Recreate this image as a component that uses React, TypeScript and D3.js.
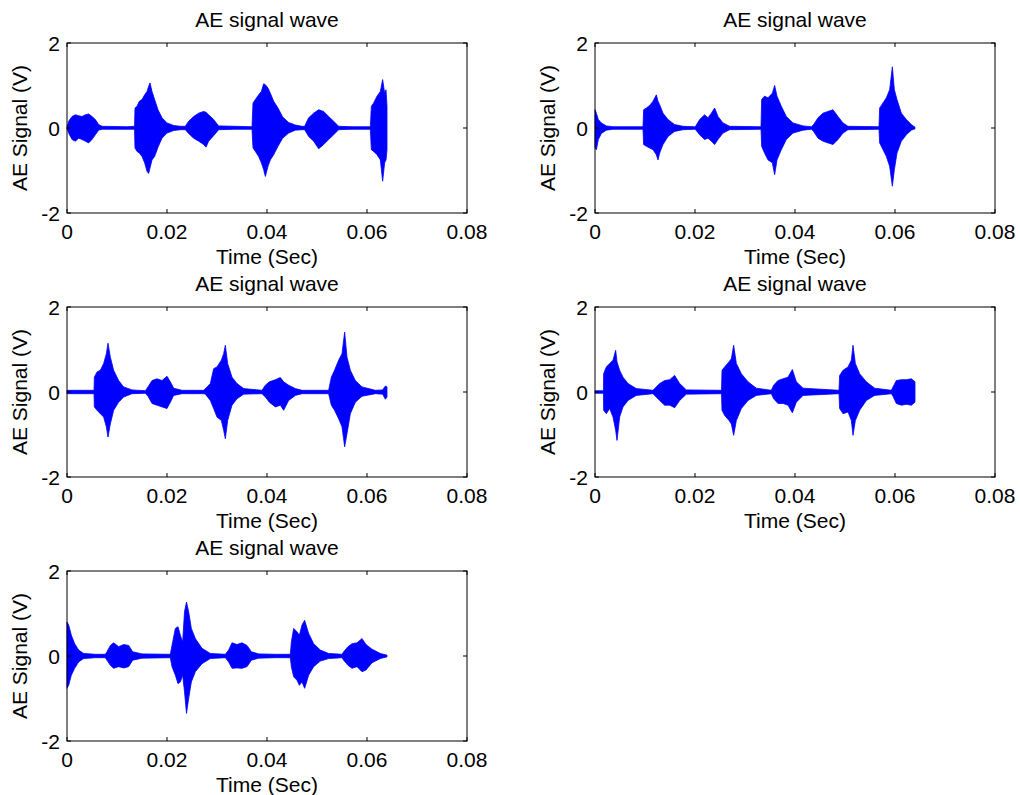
import React from "react";
import * as d3 from "d3";

// Envelope of each AE signal: [time (s), upper (V), lower (V)]
const wave1: [number, number, number][] = [
  [0, 0.02, -0.02], [0.00033, 0.16, -0.12], [0.001, 0.27, -0.27], [0.00167, 0.31, -0.31], [0.00233, 0.29, -0.24],
  [0.003, 0.27, -0.27], [0.00367, 0.31, -0.31], [0.00433, 0.33, -0.35], [0.005, 0.27, -0.27], [0.00567, 0.2, -0.16],
  [0.00633, 0.08, -0.05], [0.007, 0.04, -0.03], [0.012, 0.03, -0.03], [0.0135, 0.04, -0.03],
  [0.0136, 0.47, -0.47], [0.014, 0.51, -0.55], [0.01447, 0.63, -0.59], [0.015, 0.67, -0.67], [0.01553, 0.78, -0.82],
  [0.016, 0.86, -1.02], [0.01633, 0.98, -1.07], [0.0166, 1.06, -0.94], [0.017, 0.86, -0.75], [0.01753, 0.67, -0.67],
  [0.0182, 0.43, -0.45], [0.019, 0.24, -0.24], [0.02, 0.12, -0.12], [0.02133, 0.06, -0.06], [0.02267, 0.04, -0.04],
  [0.02367, 0.04, -0.04], [0.02433, 0.16, -0.13], [0.02533, 0.27, -0.24], [0.02633, 0.35, -0.31], [0.02733, 0.39, -0.39],
  [0.0278, 0.37, -0.45], [0.02833, 0.31, -0.31], [0.02933, 0.2, -0.18], [0.03033, 0.05, -0.04], [0.03367, 0.04, -0.03],
  [0.037, 0.03, -0.03], [0.0372, 0.59, -0.47], [0.03767, 0.67, -0.55], [0.03833, 0.78, -0.67], [0.03887, 0.86, -0.82],
  [0.03933, 1.04, -0.98], [0.03967, 1.02, -1.14], [0.0402, 0.94, -0.9], [0.04067, 0.82, -0.75], [0.04133, 0.63, -0.63],
  [0.0422, 0.47, -0.43], [0.04313, 0.26, -0.24], [0.04433, 0.13, -0.12], [0.04567, 0.07, -0.05], [0.047, 0.04, -0.04],
  [0.04753, 0.04, -0.04], [0.04833, 0.24, -0.2], [0.04933, 0.35, -0.31], [0.05033, 0.43, -0.49], [0.05133, 0.39, -0.39],
  [0.05233, 0.27, -0.27], [0.05333, 0.16, -0.16], [0.05433, 0.04, -0.04], [0.057, 0.03, -0.03], [0.06067, 0.03, -0.03],
  [0.06087, 0.51, -0.51], [0.06133, 0.59, -0.55], [0.062, 0.75, -0.63], [0.06267, 0.86, -0.75], [0.06313, 1.14, -1.25],
  [0.06353, 0.82, -0.82], [0.0638, 0.9, -0.75], [0.064, 0.51, -0.51], [0.064, 0, 0],
];

const wave2: [number, number, number][] = [
  [0, 0.43, -0.47], [0.00027, 0.35, -0.51], [0.00067, 0.2, -0.27], [0.00127, 0.12, -0.13], [0.00227, 0.05, -0.05],
  [0.0036, 0.03, -0.03], [0.0096, 0.03, -0.03],
  [0.00973, 0.43, -0.39], [0.01027, 0.47, -0.43], [0.01093, 0.53, -0.47], [0.0116, 0.63, -0.51], [0.01227, 0.78, -0.63],
  [0.0126, 0.63, -0.75], [0.01293, 0.55, -0.59], [0.0136, 0.35, -0.39], [0.0146, 0.2, -0.2], [0.01593, 0.08, -0.08],
  [0.0176, 0.04, -0.04], [0.01993, 0.03, -0.03],
  [0.02013, 0.04, -0.04], [0.02093, 0.2, -0.16], [0.02193, 0.31, -0.27], [0.0226, 0.24, -0.24], [0.02327, 0.35, -0.31],
  [0.02393, 0.47, -0.39], [0.0246, 0.27, -0.27], [0.0256, 0.12, -0.12], [0.02693, 0.04, -0.04], [0.0332, 0.03, -0.03],
  [0.03333, 0.67, -0.43], [0.0339, 0.75, -0.59], [0.0346, 0.71, -0.75], [0.03547, 0.82, -0.82], [0.03593, 1.0, -1.1],
  [0.0364, 0.75, -0.75], [0.03727, 0.51, -0.51], [0.03827, 0.27, -0.27], [0.0396, 0.12, -0.12], [0.0416, 0.05, -0.05],
  [0.04327, 0.03, -0.03],
  [0.04373, 0.08, -0.08], [0.0446, 0.24, -0.24], [0.0456, 0.35, -0.31], [0.0466, 0.39, -0.35], [0.0476, 0.43, -0.39],
  [0.0486, 0.27, -0.27], [0.0496, 0.12, -0.12], [0.0506, 0.04, -0.04], [0.0568, 0.03, -0.03],
  [0.05693, 0.47, -0.35], [0.0576, 0.59, -0.51], [0.05827, 0.71, -0.67], [0.05893, 0.9, -0.9], [0.05947, 1.44, -1.37],
  [0.05987, 0.9, -0.98], [0.0604, 0.67, -0.59], [0.06127, 0.35, -0.31], [0.06227, 0.2, -0.16], [0.06327, 0.08, -0.05],
  [0.064, 0.02, -0.02],
];

const wave3: [number, number, number][] = [
  [0, 0.04, -0.04], [0.0054, 0.04, -0.04],
  [0.00547, 0.35, -0.35], [0.006, 0.47, -0.43], [0.00667, 0.51, -0.51], [0.00733, 0.67, -0.59], [0.00787, 0.9, -0.82],
  [0.0082, 1.15, -1.06], [0.00867, 0.82, -0.75], [0.00933, 0.51, -0.43], [0.01033, 0.27, -0.24], [0.01133, 0.12, -0.12],
  [0.013, 0.05, -0.04], [0.01567, 0.03, -0.03],
  [0.0162, 0.12, -0.1], [0.017, 0.27, -0.27], [0.018, 0.31, -0.31], [0.019, 0.27, -0.35], [0.02, 0.37, -0.39],
  [0.02067, 0.24, -0.24], [0.02133, 0.09, -0.08], [0.023, 0.04, -0.04], [0.02733, 0.04, -0.04],
  [0.02767, 0.08, -0.05], [0.02867, 0.2, -0.2], [0.02933, 0.55, -0.39], [0.03, 0.59, -0.59], [0.03087, 0.75, -0.67],
  [0.03133, 0.9, -0.9], [0.03167, 1.1, -1.1], [0.03213, 0.67, -0.67], [0.033, 0.35, -0.31], [0.034, 0.2, -0.16],
  [0.03533, 0.08, -0.05], [0.039, 0.04, -0.04],
  [0.03967, 0.16, -0.12], [0.04047, 0.24, -0.24], [0.04167, 0.29, -0.35], [0.04267, 0.34, -0.31], [0.04333, 0.24, -0.43],
  [0.04433, 0.16, -0.2], [0.04567, 0.08, -0.08], [0.047, 0.04, -0.04], [0.05233, 0.04, -0.04],
  [0.05287, 0.35, -0.31], [0.0535, 0.51, -0.43], [0.05433, 0.75, -0.63], [0.055, 0.9, -0.82], [0.05553, 1.41, -1.29],
  [0.056, 0.82, -0.98], [0.05667, 0.51, -0.51], [0.05767, 0.27, -0.24], [0.059, 0.12, -0.1], [0.06167, 0.04, -0.04],
  [0.06313, 0.05, -0.05], [0.06367, 0.14, -0.17], [0.064, 0.12, -0.12], [0.064, 0, 0],
];

const wave4: [number, number, number][] = [
  [0, 0.03, -0.03], [0.0017, 0.03, -0.03],
  [0.00173, 0.43, -0.43], [0.00227, 0.59, -0.51], [0.00293, 0.67, -0.39], [0.0036, 0.75, -0.59], [0.00413, 0.98, -0.9],
  [0.0044, 0.71, -1.14], [0.00493, 0.51, -0.59], [0.0056, 0.35, -0.35], [0.0066, 0.2, -0.2], [0.00827, 0.08, -0.08],
  [0.0116, 0.04, -0.04],
  [0.01193, 0.08, -0.08], [0.01293, 0.2, -0.2], [0.01393, 0.27, -0.31], [0.01493, 0.29, -0.31], [0.01593, 0.39, -0.37],
  [0.01693, 0.2, -0.2], [0.01827, 0.05, -0.05], [0.0253, 0.04, -0.04],
  [0.0254, 0.51, -0.43], [0.02593, 0.59, -0.55], [0.0268, 0.71, -0.67], [0.02727, 0.78, -0.75], [0.02773, 1.1, -1.02],
  [0.02827, 0.67, -0.67], [0.02927, 0.43, -0.39], [0.0306, 0.24, -0.2], [0.03227, 0.09, -0.08], [0.03527, 0.04, -0.04],
  [0.03573, 0.16, -0.16], [0.0366, 0.27, -0.27], [0.0376, 0.31, -0.27], [0.0386, 0.35, -0.31], [0.03947, 0.53, -0.49],
  [0.04027, 0.24, -0.24], [0.0416, 0.09, -0.08], [0.0488, 0.04, -0.04],
  [0.04893, 0.39, -0.39], [0.0496, 0.51, -0.51], [0.0506, 0.59, -0.47], [0.05127, 0.75, -0.67], [0.0516, 1.1, -1.02],
  [0.05207, 0.67, -0.67], [0.05293, 0.43, -0.43], [0.05427, 0.24, -0.2], [0.05593, 0.09, -0.08], [0.05927, 0.04, -0.04],
  [0.0596, 0.12, -0.1], [0.06027, 0.27, -0.27], [0.06127, 0.29, -0.31], [0.06227, 0.29, -0.29], [0.06327, 0.31, -0.31],
  [0.064, 0.24, -0.24], [0.064, 0, 0],
];

const wave5: [number, number, number][] = [
  [0, 0.8, -0.76], [0.00033, 0.73, -0.69], [0.00087, 0.49, -0.45], [0.00153, 0.29, -0.29], [0.00233, 0.14, -0.14],
  [0.00333, 0.06, -0.06], [0.00567, 0.04, -0.04], [0.00767, 0.04, -0.04],
  [0.008, 0.1, -0.1], [0.00867, 0.25, -0.22], [0.00933, 0.31, -0.29], [0.01033, 0.22, -0.25], [0.01133, 0.27, -0.28],
  [0.01233, 0.25, -0.25], [0.01313, 0.1, -0.1], [0.015, 0.05, -0.05], [0.02067, 0.04, -0.04],
  [0.021, 0.25, -0.25], [0.02167, 0.65, -0.45], [0.0222, 0.69, -0.65], [0.02267, 0.49, -0.61], [0.02313, 0.33, -0.45],
  [0.0235, 1.04, -0.84], [0.0239, 1.27, -1.35], [0.02433, 1.04, -1.0], [0.02487, 0.65, -0.61], [0.02567, 0.41, -0.37],
  [0.027, 0.18, -0.18], [0.02867, 0.06, -0.06], [0.03167, 0.04, -0.04],
  [0.03233, 0.14, -0.14], [0.033, 0.31, -0.29], [0.034, 0.27, -0.28], [0.035, 0.31, -0.29], [0.036, 0.25, -0.25],
  [0.03687, 0.1, -0.1], [0.03833, 0.05, -0.05], [0.04167, 0.04, -0.04], [0.04467, 0.04, -0.04],
  [0.04487, 0.33, -0.25], [0.04533, 0.65, -0.49], [0.046, 0.57, -0.57], [0.04647, 0.49, -0.69], [0.047, 0.73, -0.61],
  [0.04753, 0.84, -0.76], [0.04833, 0.53, -0.45], [0.04933, 0.29, -0.25], [0.05067, 0.14, -0.12], [0.05233, 0.06, -0.06],
  [0.055, 0.04, -0.04],
  [0.05533, 0.1, -0.1], [0.0562, 0.22, -0.22], [0.057, 0.29, -0.29], [0.058, 0.31, -0.25], [0.059, 0.41, -0.37],
  [0.0598, 0.27, -0.33], [0.061, 0.16, -0.16], [0.06267, 0.06, -0.06], [0.064, 0.02, -0.02],
];

const waves = [wave1, wave2, wave3, wave4, wave5];
const xTicks = [0, 0.02, 0.04, 0.06, 0.08];
const yTicks = [-2, 0, 2];
const titleText = "AE signal wave";
const xLabelText = "Time (Sec)";
const yLabelText = "AE Signal (V)";

const panels = [
  { left: 67, top: 43 },
  { left: 595, top: 43 },
  { left: 67, top: 307 },
  { left: 595, top: 307 },
  { left: 67, top: 571 },
];

const W = 400;
const H = 170;
const FONT = "'Liberation Sans', Arial, Helvetica, sans-serif";
const FS = 21;
const BLUE = "#0000ff";

function Panel({ left, top, data }: { left: number; top: number; data: [number, number, number][] }) {
  const x = d3.scaleLinear().domain([0, 0.08]).range([0, W]);
  const y = d3.scaleLinear().domain([-2, 2]).range([H, 0]);
  const area = d3
    .area<[number, number, number]>()
    .x((d) => x(d[0]))
    .y0((d) => y(d[2]))
    .y1((d) => y(d[1]))
    .curve(d3.curveLinear);
  const last = data[data.length - 1][0];
  const tl = 4;
  return (
    <g transform={`translate(${left},${top})`}>
      <rect x={0} y={0} width={W} height={H} fill="#fff" />
      <line x1={x(0)} x2={x(last)} y1={y(0)} y2={y(0)} stroke={BLUE} strokeWidth={1.5} />
      <path d={area(data) || ""} fill={BLUE} stroke={BLUE} strokeWidth={0.8} strokeLinejoin="miter" />
      <rect x={0} y={0} width={W} height={H} fill="none" stroke="#000" strokeWidth={1} />
      {xTicks.map((t) => (
        <g key={`x${t}`}>
          <line x1={x(t)} x2={x(t)} y1={H} y2={H - tl} stroke="#000" />
          <line x1={x(t)} x2={x(t)} y1={0} y2={tl} stroke="#000" />
          <text x={x(t)} y={H + 26} textAnchor="middle" fontFamily={FONT} fontSize={FS}>
            {String(t)}
          </text>
        </g>
      ))}
      {yTicks.map((t) => (
        <g key={`y${t}`}>
          <line x1={0} x2={tl} y1={y(t)} y2={y(t)} stroke="#000" />
          <line x1={W} x2={W - tl} y1={y(t)} y2={y(t)} stroke="#000" />
          <text x={-7} y={y(t) + 7.5} textAnchor="end" fontFamily={FONT} fontSize={FS}>
            {String(t)}
          </text>
        </g>
      ))}
      <text x={W / 2} y={-16} textAnchor="middle" fontFamily={FONT} fontSize={FS}>
        {titleText}
      </text>
      <text x={W / 2} y={H + 51} textAnchor="middle" fontFamily={FONT} fontSize={FS}>
        {xLabelText}
      </text>
      <text
        transform={`translate(-40,${H / 2}) rotate(-90)`}
        textAnchor="middle"
        fontFamily={FONT}
        fontSize={FS}
      >
        {yLabelText}
      </text>
    </g>
  );
}

export default function App() {
  return (
    <svg
      width={1020}
      height={795}
      style={{ position: "absolute", left: 0, top: 0, background: "#fff" }}
    >
      <rect width={1020} height={795} fill="#fff" />
      {panels.map((p, i) => (
        <Panel key={i} left={p.left} top={p.top} data={waves[i]} />
      ))}
    </svg>
  );
}
